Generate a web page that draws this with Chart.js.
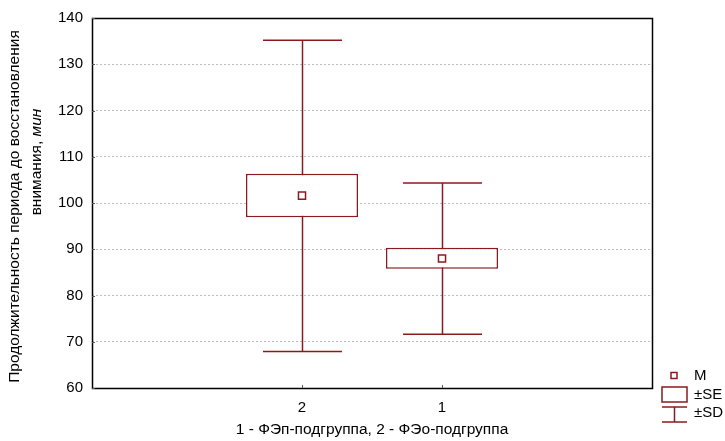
<!DOCTYPE html>
<html>
<head>
<meta charset="utf-8">
<script src="https://cdn.jsdelivr.net/npm/chart.js@4"></script>
<style>
  html, body { margin: 0; padding: 0; background: #fff; }
  canvas { display: block; }
</style>
</head>
<body>
<canvas id="c" width="725" height="441"></canvas>
<script>
// Groups in plotting order and their summary statistics (minutes)
const groups = ['2', '1'];
const means  = [101.6, 88.0];
const seLow  = [96.9, 85.8];
const seHigh = [106.3, 90.3];
const sdLow  = [67.9, 71.6];
const sdHigh = [135.2, 104.3];

const yTicks = [60, 70, 80, 90, 100, 110, 120, 130, 140];
const xLabels = ['', ...groups, ''];

const yTitleLine1 = 'Продолжительность периода до восстановления';
const yTitleLine2 = 'внимания, ';
const yTitleUnit = 'мин';
const xTitle = '1 - ФЭп-подгруппа, 2 - ФЭо-подгруппа';
const legendLabels = ['M', '±SE', '±SD'];

const RED = '#8b1a1e';
const FONT = "'Liberation Sans', Arial, sans-serif";
const TITLE_SIZE = 15.5;
const TICK_SIZE = 15;

const boxData = xLabels.map((_, k) => {
  const i = k - 1;
  return (i >= 0 && i < groups.length) ? [seLow[i], seHigh[i]] : null;
});
const meanData = xLabels.map((_, k) => {
  const i = k - 1;
  return (i >= 0 && i < groups.length) ? means[i] : null;
});

// SD whiskers drawn under the SE boxes
const whiskers = {
  id: 'whiskers',
  beforeDatasetsDraw(chart) {
    const { ctx, scales: { x, y } } = chart;
    const cat = x.getPixelForValue(1) - x.getPixelForValue(0);
    const half = cat * 0.282;
    ctx.save();
    ctx.strokeStyle = RED;
    ctx.lineWidth = 1.5;
    groups.forEach((g, i) => {
      const cx = Math.round(x.getPixelForValue(i + 1)) + 0.5;
      const yt = y.getPixelForValue(sdHigh[i]);
      const yb = y.getPixelForValue(sdLow[i]);
      ctx.beginPath();
      ctx.moveTo(cx, yt); ctx.lineTo(cx, yb);
      ctx.moveTo(cx - half, yt); ctx.lineTo(cx + half, yt);
      ctx.moveTo(cx - half, yb); ctx.lineTo(cx + half, yb);
      ctx.stroke();
    });
    ctx.restore();
  }
};

// Plot frame, inner tick marks, axis titles and the symbol key
const decorations = {
  id: 'decorations',
  afterDraw(chart) {
    const { ctx, chartArea: a, scales: { x, y } } = chart;
    ctx.save();
    // frame
    ctx.strokeStyle = '#000';
    ctx.lineWidth = 1.5;
    ctx.strokeRect(Math.round(a.left) + 0.5, Math.round(a.top) + 0.5,
                   Math.round(a.right - a.left), Math.round(a.bottom - a.top));
    // inner ticks
    ctx.lineWidth = 1;
    ctx.strokeStyle = '#555';
    ctx.beginPath();
    yTicks.forEach(v => {
      const py = Math.round(y.getPixelForValue(v)) + 0.5;
      ctx.moveTo(a.left, py); ctx.lineTo(a.left + 3, py);
    });
    groups.forEach((g, i) => {
      const px = Math.round(x.getPixelForValue(i + 1)) + 0.5;
      ctx.moveTo(px, a.bottom); ctx.lineTo(px, a.bottom - 3);
    });
    ctx.stroke();

    // y title (rotated, unit in italics)
    const reg = TITLE_SIZE + 'px ' + FONT;
    const ital = 'italic ' + TITLE_SIZE + 'px ' + FONT;
    ctx.fillStyle = '#000';
    ctx.textBaseline = 'middle';
    ctx.textAlign = 'left';
    ctx.save();
    ctx.translate(15, 206.5);
    ctx.rotate(-Math.PI / 2);
    ctx.font = reg;
    const w1 = ctx.measureText(yTitleLine1).width;
    ctx.fillText(yTitleLine1, -w1 / 2, 0);
    ctx.restore();

    ctx.save();
    ctx.translate(37, 162);
    ctx.rotate(-Math.PI / 2);
    ctx.font = reg;
    const wa = ctx.measureText(yTitleLine2).width;
    ctx.font = ital;
    const wb = ctx.measureText(yTitleUnit).width;
    const start = -(wa + wb) / 2;
    ctx.font = reg;
    ctx.fillText(yTitleLine2, start, 0);
    ctx.font = ital;
    ctx.fillText(yTitleUnit, start + wa, 0);
    ctx.restore();

    // x title
    ctx.font = reg;
    ctx.textAlign = 'center';
    ctx.fillText(xTitle, (a.left + a.right) / 2, 430);

    // key
    const kx = a.right + 10;
    ctx.strokeStyle = RED;
    ctx.lineWidth = 1.5;
    ctx.fillStyle = '#fff';
    ctx.fillRect(kx + 9, 372.5, 6, 6);
    ctx.strokeRect(kx + 9, 372.5, 6, 6);
    ctx.strokeRect(kx, 387, 25, 15);
    ctx.beginPath();
    ctx.moveTo(kx, 407); ctx.lineTo(kx + 25, 407);
    ctx.moveTo(kx + 12.5, 407); ctx.lineTo(kx + 12.5, 422);
    ctx.moveTo(kx, 422); ctx.lineTo(kx + 25, 422);
    ctx.stroke();
    ctx.fillStyle = '#000';
    ctx.textAlign = 'left';
    ctx.font = TICK_SIZE + 'px ' + FONT;
    ctx.fillText(legendLabels[0], kx + 32, 376);
    ctx.fillText(legendLabels[1], kx + 32, 395);
    ctx.fillText(legendLabels[2], kx + 32, 413);
    ctx.restore();
  }
};

new Chart(document.getElementById('c'), {
  type: 'bar',
  data: {
    labels: xLabels,
    datasets: [
      {
        type: 'line',
        label: 'M',
        data: meanData,
        showLine: false,
        pointStyle: 'rect',
        pointRadius: 5,
        pointBackgroundColor: '#fff',
        pointBorderColor: RED,
        pointBorderWidth: 1.5,
        order: 0
      },
      {
        label: '±SE',
        data: boxData,
        backgroundColor: '#fff',
        borderColor: RED,
        borderWidth: 1.5,
        borderSkipped: false,
        barPercentage: 0.8,
        categoryPercentage: 1.0,
        order: 1
      }
    ]
  },
  options: {
    responsive: false,
    animation: false,
    layout: { padding: { left: 0, top: 16, right: 73, bottom: 0 } },
    plugins: { legend: { display: false }, tooltip: { enabled: false } },
    scales: {
      x: {
        type: 'category',
        offset: true,
        grid: { display: false, drawTicks: false },
        border: { display: false },
        ticks: { font: { size: TICK_SIZE, family: FONT }, color: '#000', padding: 11, autoSkip: false, maxRotation: 0 },
        afterFit(s) { s.height = 53; }
      },
      y: {
        min: 60,
        max: 140,
        afterBuildTicks(s) { s.ticks = yTicks.map(v => ({ value: v })); },
        grid: {
          drawTicks: false,
          color: c => (c.tick && (c.tick.value === 60 || c.tick.value === 140)) ? 'rgba(0,0,0,0)' : '#bdbdbd',
          lineWidth: 1
        },
        border: { display: false, dash: [2, 2] },
        ticks: { font: { size: TICK_SIZE, family: FONT }, color: '#000', padding: 9 },
        afterFit(s) { s.width = 92; }
      }
    }
  },
  plugins: [whiskers, decorations]
});
</script>
</body>
</html>
